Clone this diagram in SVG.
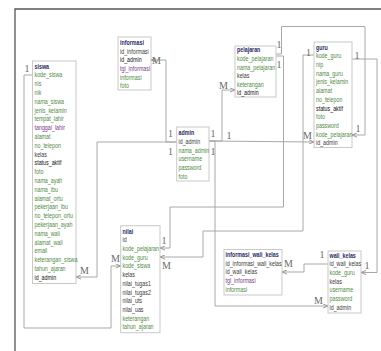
<svg xmlns="http://www.w3.org/2000/svg" width="381" height="351" viewBox="0 0 381 351">
<style>
.box{fill:#fff;stroke:#c9c9c9;stroke-width:1}
.f{font-family:"Liberation Sans",Arial,sans-serif;font-size:7.5px}
.h{font-weight:bold;fill:#2b2b66}
.g{fill:#4f8a3f}
.d{fill:#3a3a3a}
.k{fill:#111}
.p{fill:#7a3a8a}
.c{fill:none;stroke:#a8a8a8;stroke-width:1}
.lb{font-family:"Liberation Serif","Times New Roman",serif;font-size:10px;fill:#6a6a6a}
.frame{fill:none;stroke:#555;stroke-width:1.3}
</style>
<defs>
<marker id="arr" viewBox="0 0 6 6" refX="6" refY="3" markerWidth="5" markerHeight="5" orient="auto" markerUnits="userSpaceOnUse"><path d="M0,0.5 L6,3 L0,5.5" fill="none" stroke="#888" stroke-width="1"/></marker>
</defs>
<rect width="381" height="351" fill="#fff"/>
<path class="frame" d="M15,351 V9 H381"/>

<g id="connectors">
<polyline class="c" points="32.5,75 24,75 24,328 111,328 111,266 120.7,266" marker-end="url(#arr)"/>
<polyline class="c" points="176.7,142 97,142 97,277 76,277" marker-end="url(#arr)"/>
<polyline class="c" points="176.7,142 166,142 166,60 151,60" marker-end="url(#arr)"/>
<polyline class="c" points="209,141 222,141 222,90 235,90" marker-end="url(#arr)"/>
<polyline class="c" points="209,141 314,142" marker-end="url(#arr)"/>
<polyline class="c" points="209,141 215,141 215,306 328,306" marker-end="url(#arr)"/>
<polyline class="c" points="276,54 281.5,54 281.5,26.5 365,26.5 365,135 352,135" marker-end="url(#arr)"/>
<polyline class="c" points="276,56 283.5,56 283.5,207 170,207 170,248 160,248" marker-end="url(#arr)"/>
<polyline class="c" points="314,55 303,55 303,231 203,231 203,257 160,257" marker-end="url(#arr)"/>
<polyline class="c" points="352,59 377,59 377,272.5 361,272.5" marker-end="url(#arr)"/>
<polyline class="c" points="328,264 304,264 304,272 282,272" marker-end="url(#arr)"/>
<text class="lb" x="24.5" y="72">1</text>
<text class="lb" x="111" y="262">M</text>
<text class="lb" x="80" y="274">M</text>
<text class="lb" x="152" y="64">M</text>
<text class="lb" x="168" y="137">1</text>
<text class="lb" x="168" y="155">1</text>
<text class="lb" x="210.5" y="137">1</text>
<text class="lb" x="226.5" y="139">1</text>
<text class="lb" x="210.5" y="155">1</text>
<text class="lb" x="219" y="89">M</text>
<text class="lb" x="303" y="139">M</text>
<text class="lb" x="314" y="304">M</text>
<text class="lb" x="276.5" y="48">1</text>
<text class="lb" x="276.5" y="68">1</text>
<text class="lb" x="355.5" y="132">1</text>
<text class="lb" x="161.5" y="244">1</text>
<text class="lb" x="306" y="56">1</text>
<text class="lb" x="162" y="269">M</text>
<text class="lb" x="354.5" y="59">1</text>
<text class="lb" x="364.5" y="269">1</text>
<text class="lb" x="319.5" y="258">1</text>
<text class="lb" x="284" y="267">M</text>
</g>

<g id="siswa">
<rect class="box" x="32.5" y="61" width="43.5" height="222.5"/>
<g transform="translate(34.5,0) scale(0.71,1)">
<text class="f" y="68.7"><tspan x="0" class="h">siswa</tspan><tspan x="0" dy="8.8" class="g">kode_siswa</tspan><tspan x="0" dy="8.8" class="g">nis</tspan><tspan x="0" dy="8.8" class="g">nik</tspan><tspan x="0" dy="8.8" class="g">nama_siswa</tspan><tspan x="0" dy="8.8" class="g">jenis_kelamin</tspan><tspan x="0" dy="8.8" class="g">tempat_lahir</tspan><tspan x="0" dy="8.8" class="p">tanggal_lahir</tspan><tspan x="0" dy="8.8" class="g">alamat</tspan><tspan x="0" dy="8.8" class="g">no_telepon</tspan><tspan x="0" dy="8.8" class="d">kelas</tspan><tspan x="0" dy="8.8" class="k">status_aktif</tspan><tspan x="0" dy="8.8" class="g">foto</tspan><tspan x="0" dy="8.8" class="g">nama_ayah</tspan><tspan x="0" dy="8.8" class="g">nama_ibu</tspan><tspan x="0" dy="8.8" class="g">alamat_ortu</tspan><tspan x="0" dy="8.8" class="g">pekerjaan_ibu</tspan><tspan x="0" dy="8.8" class="g">no_telepon_ortu</tspan><tspan x="0" dy="8.8" class="g">pekerjaan_ayah</tspan><tspan x="0" dy="8.8" class="g">nama_wali</tspan><tspan x="0" dy="8.8" class="g">alamat_wali</tspan><tspan x="0" dy="8.8" class="g">email</tspan><tspan x="0" dy="8.8" class="g">keterangan_siswa</tspan><tspan x="0" dy="8.8" class="g">tahun_ajaran</tspan><tspan x="0" dy="8.8" class="k">id_admin</tspan></text>
</g>
</g>

<g id="informasi">
<rect class="box" x="118" y="37" width="33" height="53"/>
<g transform="translate(120,0) scale(0.71,1)">
<text class="f" y="45"><tspan x="0" class="h">informasi</tspan><tspan x="0" dy="8.7" class="d">id_informasi</tspan><tspan x="0" dy="8.7" class="k">id_admin</tspan><tspan x="0" dy="8.7" class="p">tgl_informasi</tspan><tspan x="0" dy="8.7" class="g">informasi</tspan><tspan x="0" dy="8.7" class="g">foto</tspan></text>
</g>
</g>

<g id="pelajaran">
<rect class="box" x="235" y="46" width="41" height="51"/>
<g transform="translate(237,0) scale(0.71,1)">
<text class="f" y="52.4"><tspan x="0" class="h">pelajaran</tspan><tspan x="0" dy="8.6" class="g">kode_pelajaran</tspan><tspan x="0" dy="8.6" class="g">nama_pelajaran</tspan><tspan x="0" dy="8.6" class="d">kelas</tspan><tspan x="0" dy="8.6" class="g">keterangan</tspan><tspan x="0" dy="8.6" class="k">id_admin</tspan></text>
</g>
</g>

<g id="guru">
<rect class="box" x="314" y="42" width="38" height="105.5"/>
<g transform="translate(316,0) scale(0.71,1)">
<text class="f" y="49.7"><tspan x="0" class="h">guru</tspan><tspan x="0" dy="8.7" class="g">kode_guru</tspan><tspan x="0" dy="8.7" class="g">nip</tspan><tspan x="0" dy="8.7" class="g">nama_guru</tspan><tspan x="0" dy="8.7" class="g">jenis_kelamin</tspan><tspan x="0" dy="8.7" class="g">alamat</tspan><tspan x="0" dy="8.7" class="g">no_telepon</tspan><tspan x="0" dy="8.7" class="k">status_aktif</tspan><tspan x="0" dy="8.7" class="g">foto</tspan><tspan x="0" dy="8.7" class="g">password</tspan><tspan x="0" dy="8.7" class="g">kode_pelajaran</tspan><tspan x="0" dy="8.7" class="d">id_admin</tspan></text>
</g>
</g>

<g id="admin">
<rect class="box" x="176.7" y="127" width="32.3" height="54"/>
<g transform="translate(178.5,0) scale(0.71,1)">
<text class="f" y="135.4"><tspan x="0" class="h">admin</tspan><tspan x="0" dy="8.7" class="d">id_admin</tspan><tspan x="0" dy="8.7" class="g">nama_admin</tspan><tspan x="0" dy="8.7" class="g">username</tspan><tspan x="0" dy="8.7" class="g">password</tspan><tspan x="0" dy="8.7" class="g">foto</tspan></text>
</g>
</g>

<g id="nilai">
<rect class="box" x="120.7" y="225.7" width="39.3" height="107"/>
<g transform="translate(122.5,0) scale(0.71,1)">
<text class="f" y="233.7"><tspan x="0" class="h">nilai</tspan><tspan x="0" dy="8.7" class="d">id</tspan><tspan x="0" dy="8.7" class="g">kode_pelajaran</tspan><tspan x="0" dy="8.7" class="g">kode_guru</tspan><tspan x="0" dy="8.7" class="g">kode_siswa</tspan><tspan x="0" dy="8.7" class="d">kelas</tspan><tspan x="0" dy="8.7" class="d">nilai_tugas1</tspan><tspan x="0" dy="8.7" class="d">nilai_tugas2</tspan><tspan x="0" dy="8.7" class="d">nilai_uts</tspan><tspan x="0" dy="8.7" class="d">nilai_uas</tspan><tspan x="0" dy="8.7" class="g">keterangan</tspan><tspan x="0" dy="8.7" class="g">tahun_ajaran</tspan></text>
</g>
</g>

<g id="informasi_wali_kelas">
<rect class="box" x="224" y="249.5" width="58" height="45.5"/>
<g transform="translate(225.5,0) scale(0.71,1)">
<text class="f" y="257"><tspan x="0" class="h">informasi_wali_kelas</tspan><tspan x="0" dy="8.7" class="d">id_informasi_wali_kelas</tspan><tspan x="0" dy="8.7" class="d">id_wali_kelas</tspan><tspan x="0" dy="8.7" class="p">tgl_informasi</tspan><tspan x="0" dy="8.7" class="g">informasi</tspan></text>
</g>
</g>

<g id="wali_kelas">
<rect class="box" x="328" y="251" width="33" height="62"/>
<g transform="translate(329.5,0) scale(0.71,1)">
<text class="f" y="257.7"><tspan x="0" class="h">wali_kelas</tspan><tspan x="0" dy="8.7" class="d">id_wali_kelas</tspan><tspan x="0" dy="8.7" class="g">kode_guru</tspan><tspan x="0" dy="8.7" class="d">kelas</tspan><tspan x="0" dy="8.7" class="g">username</tspan><tspan x="0" dy="8.7" class="g">password</tspan><tspan x="0" dy="8.7" class="d">id_admin</tspan></text>
</g>
</g>
</svg>
